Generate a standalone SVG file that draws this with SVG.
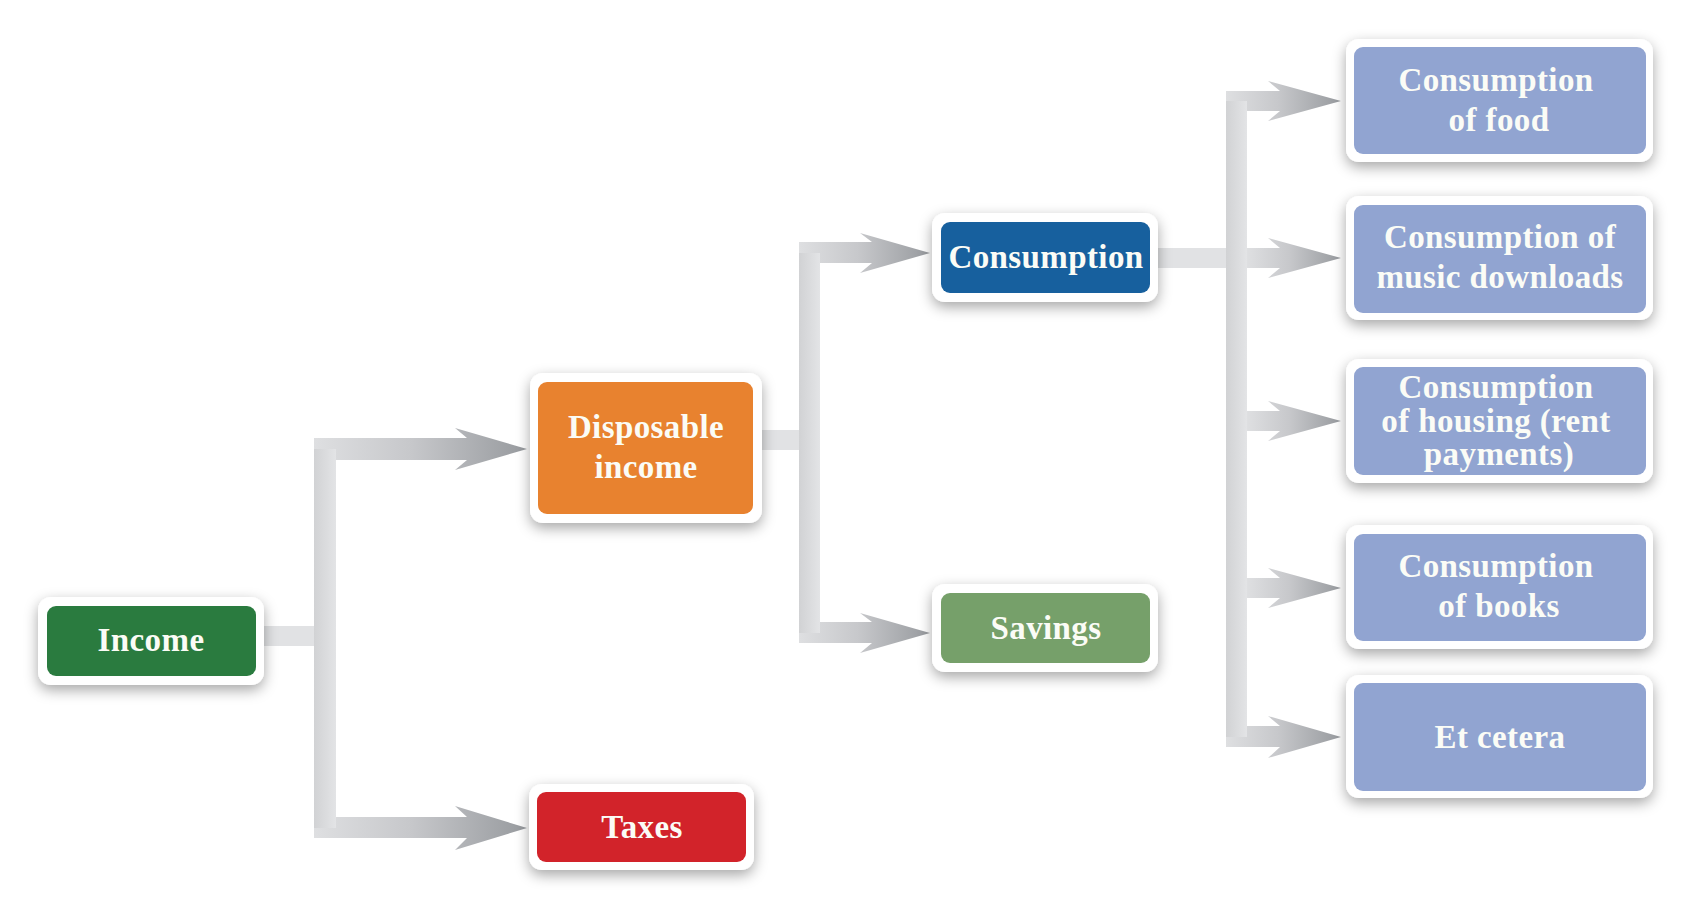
<svg xmlns="http://www.w3.org/2000/svg" width="1692" height="911" viewBox="0 0 1692 911">
<defs>
<linearGradient id="arrowGrad" x1="0" y1="0" x2="1" y2="0">
<stop offset="0" stop-color="#dedfe1"/>
<stop offset="0.45" stop-color="#c7c8cb"/>
<stop offset="1" stop-color="#979a9e"/>
</linearGradient>
<linearGradient id="barGrad" x1="0" y1="0" x2="1" y2="0">
<stop offset="0" stop-color="#d1d2d4"/>
<stop offset="1" stop-color="#e3e4e6"/>
</linearGradient>
<filter id="shadow" x="-20%" y="-30%" width="140%" height="170%">
<feDropShadow dx="0" dy="5" stdDeviation="7" flood-color="#000" flood-opacity="0.35"/>
</filter>
</defs>
<style>
.outer{fill:#ffffff;filter:url(#shadow)}
.lbl{font-family:"Liberation Serif","Times New Roman",serif;font-weight:bold;font-size:33px;fill:#fbfcf6;text-anchor:middle;letter-spacing:0.4px}
.bar{fill:url(#barGrad)}
.stub{fill:#e1e2e4}
.arr{fill:url(#arrowGrad)}
</style>
<rect width="1692" height="911" fill="#ffffff"/>

<g id="connectors">
<rect class="stub" x="262" y="626" width="54" height="20"/>
<rect class="bar" x="314" y="438" width="22" height="400"/>
<path class="arr" d="M314,438 L467,438 L455,428 L527,449 L455,470 L467,460 L336,460 L336,449 L314,449 Z"/>
<path class="arr" d="M336,817 L467,817 L455,806 L527,828 L455,850 L467,838 L314,838 L314,828 L336,828 Z"/>

<rect class="stub" x="760" y="430" width="41" height="20"/>
<rect class="bar" x="799" y="242" width="21" height="401"/>
<path class="arr" d="M799,242 L872,242 L860,233 L930,253 L860,273 L872,263 L820,263 L820,253 L799,253 Z"/>
<path class="arr" d="M820,622 L872,622 L860,613 L930,633 L860,653 L872,643 L799,643 L799,633 L820,633 Z"/>

<rect class="stub" x="1156" y="248" width="72" height="20"/>
<rect class="bar" x="1226" y="91" width="21" height="656"/>
<path class="arr" d="M1226,91 L1280,91 L1268,81 L1341,101 L1268,121 L1280,111 L1247,111 L1247,101 L1226,101 Z"/>
<path class="arr" d="M1247,248 L1280,248 L1268,238 L1341,258 L1268,278 L1280,268 L1247,268 Z"/>
<path class="arr" d="M1247,411 L1280,411 L1268,401 L1341,421 L1268,441 L1280,431 L1247,431 Z"/>
<path class="arr" d="M1247,578 L1280,578 L1268,568 L1341,588 L1268,608 L1280,598 L1247,598 Z"/>
<path class="arr" d="M1247,726 L1280,726 L1268,716 L1341,737 L1268,758 L1280,747 L1226,747 L1226,737 L1247,737 Z"/>
</g>

<g id="income">
<rect class="outer" x="38" y="597" width="226" height="88" rx="13"/>
<rect x="47" y="606" width="209" height="70" rx="9" fill="#2a7b3f"/>
<text class="lbl" x="151" y="651">Income</text>
</g>

<g id="disposable-income">
<rect class="outer" x="530" y="373" width="232" height="150" rx="13"/>
<rect x="538" y="382" width="215" height="132" rx="9" fill="#e8822f"/>
<text class="lbl" x="646" y="438">Disposable</text>
<text class="lbl" x="646" y="478">income</text>
</g>

<g id="taxes">
<rect class="outer" x="529" y="784" width="225" height="86" rx="13"/>
<rect x="537" y="792" width="209" height="70" rx="9" fill="#d2232a"/>
<text class="lbl" x="642" y="838">Taxes</text>
</g>

<g id="consumption">
<rect class="outer" x="932" y="213" width="226" height="89" rx="13"/>
<rect x="941" y="222" width="209" height="71" rx="9" fill="#17609e"/>
<text class="lbl" x="1046" y="268">Consumption</text>
</g>

<g id="savings">
<rect class="outer" x="932" y="584" width="226" height="88" rx="13"/>
<rect x="941" y="593" width="209" height="70" rx="9" fill="#76a06a"/>
<text class="lbl" x="1046" y="639">Savings</text>
</g>

<g id="food">
<rect class="outer" x="1346" y="39" width="307" height="123" rx="13"/>
<rect x="1354" y="47" width="292" height="107" rx="9" fill="#91a4d1"/>
<text class="lbl" x="1496" y="91">Consumption</text>
<text class="lbl" x="1499" y="131">of food</text>
</g>

<g id="music">
<rect class="outer" x="1346" y="196" width="307" height="124" rx="13"/>
<rect x="1354" y="205" width="292" height="108" rx="9" fill="#91a4d1"/>
<text class="lbl" x="1500" y="248">Consumption of</text>
<text class="lbl" x="1500" y="288">music downloads</text>
</g>

<g id="housing">
<rect class="outer" x="1346" y="359" width="307" height="124" rx="13"/>
<rect x="1354" y="367" width="292" height="108" rx="9" fill="#91a4d1"/>
<text class="lbl" x="1496" y="398">Consumption</text>
<text class="lbl" x="1496" y="432">of housing (rent</text>
<text class="lbl" x="1499" y="465">payments)</text>
</g>

<g id="books">
<rect class="outer" x="1346" y="525" width="307" height="124" rx="13"/>
<rect x="1354" y="534" width="292" height="107" rx="9" fill="#91a4d1"/>
<text class="lbl" x="1496" y="577">Consumption</text>
<text class="lbl" x="1499" y="617">of books</text>
</g>

<g id="etcetera">
<rect class="outer" x="1346" y="675" width="307" height="123" rx="13"/>
<rect x="1354" y="683" width="292" height="108" rx="9" fill="#91a4d1"/>
<text class="lbl" x="1500" y="748">Et cetera</text>
</g>
</svg>
